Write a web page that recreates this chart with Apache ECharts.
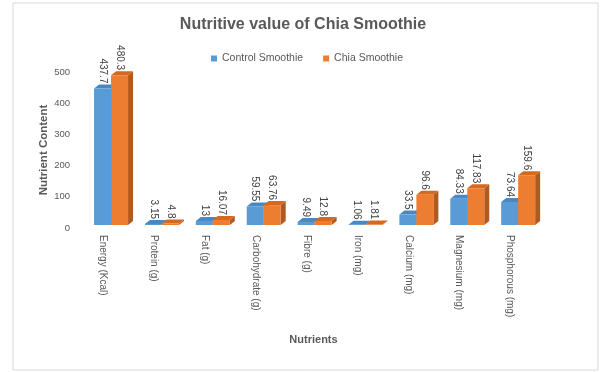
<!DOCTYPE html>
<html>
<head>
<meta charset="utf-8">
<script src="https://cdn.jsdelivr.net/npm/echarts@6/dist/echarts.min.js"></script>
<style>
  html, body { margin: 0; padding: 0; background: #fff; }
  #chart { width: 606px; height: 372px; }
</style>
</head>
<body>
<div id="chart"></div>
<script>
// Nutrient categories and values per smoothie
const categories = [
  'Energy (Kcal)', 'Protein (g)', 'Fat (g)', 'Carbohydrate (g)', 'Fibre (g)',
  'Iron (mg)', 'Calcium (mg)', 'Magnesium (mg)', 'Phosphorous (mg)'
];
const controlValues = [437.7, 3.15, 13, 59.55, 9.49, 1.06, 33.5, 84.33, 73.64];
const chiaValues = [480.3, 4.8, 16.07, 63.76, 12.8, 1.81, 96.6, 117.83, 159.6];
const seriesNames = ['Control Smoothie', 'Chia Smoothie'];
const yMin = 0, yMax = 500, yStep = 100;

const FONT = 'Liberation Sans';
const TEXT = '#595959';

// Face colours for the pseudo-3D columns: front, top, side
const palettes = [
  { front: '#5B9BD5', top: '#4A88C2', side: '#41719C' },
  { front: '#ED7D31', top: '#D4691F', side: '#AE5A21' }
];

// Builds a renderItem drawing one extruded column with its rotated value label
function columnRenderer(slot) {
  const pal = palettes[slot];
  return function (params, api) {
    const cat = api.value(0);
    const val = api.value(1);
    const band = api.size([1, 0])[0];
    const w = band * 0.334;
    const base = api.coord([cat, 0]);
    const top = api.coord([cat, val]);
    const x0 = base[0] - w + slot * w;
    const x1 = x0 + w;
    const yb = base[1];
    const yt = top[1];
    const dx = 5, dy = -4;
    return {
      type: 'group',
      children: [
        {
          type: 'polygon',
          shape: { points: [[x1, yt], [x1 + dx, yt + dy], [x1 + dx, yb + dy], [x1, yb]] },
          style: { fill: pal.side }
        },
        {
          type: 'polygon',
          shape: { points: [[x0, yt], [x0 + dx, yt + dy], [x1 + dx, yt + dy], [x1, yt]] },
          style: { fill: pal.top }
        },
        {
          type: 'rect',
          shape: { x: x0, y: yt, width: w, height: yb - yt },
          style: { fill: pal.front }
        },
        {
          type: 'text',
          x: (x0 + x1) / 2,
          y: yt - 5,
          rotation: -Math.PI / 2,
          style: {
            text: String(val),
            align: 'right',
            verticalAlign: 'middle',
            fontSize: 10,
            fontFamily: FONT,
            fill: '#404040'
          }
        }
      ]
    };
  };
}

const chart = echarts.init(document.getElementById('chart'));
chart.setOption({
  backgroundColor: '#fff',
  animation: false,
  title: {
    text: 'Nutritive value of Chia Smoothie',
    left: 'center',
    top: 12,
    textStyle: { fontFamily: FONT, fontSize: 16, fontWeight: 'bold', color: TEXT }
  },
  legend: {
    data: seriesNames,
    left: 206,
    top: 48,
    icon: 'rect',
    itemWidth: 6,
    itemHeight: 6,
    itemGap: 20,
    textStyle: { fontFamily: FONT, fontSize: 10.5, color: TEXT }
  },
  graphic: [{
    type: 'rect',
    shape: { x: 13, y: 3, width: 585, height: 367 },
    style: { fill: 'none', stroke: '#d9d9d9', lineWidth: 1 },
    silent: true,
    z: -1
  }],
  grid: [
    { left: 85.6, width: 458, top: 69, height: 156 },
    { left: 77.5, width: 458, top: 72, height: 156 }
  ],
  xAxis: [
    { type: 'category', gridIndex: 0, data: categories, show: false },
    {
      type: 'category', gridIndex: 1, data: categories,
      axisLine: { show: false }, axisTick: { show: false },
      axisLabel: { rotate: -90, margin: 7, fontSize: 10, fontFamily: FONT, color: TEXT },
      name: 'Nutrients', nameLocation: 'middle', nameGap: 106,
      nameMoveOverlap: false,
      nameTextStyle: {
        fontFamily: FONT, fontSize: 11, fontWeight: 'bold', color: TEXT,
        padding: [0, 0, 0, 14]
      }
    }
  ],
  yAxis: [
    { type: 'value', gridIndex: 0, min: yMin, max: yMax, interval: yStep, show: false },
    {
      type: 'value', gridIndex: 1, min: yMin, max: yMax, interval: yStep,
      axisLine: { show: false }, axisTick: { show: false }, splitLine: { show: false },
      axisLabel: { margin: 7.5, fontSize: 9.5, fontFamily: FONT, color: TEXT },
      name: 'Nutrient Content', nameLocation: 'middle', nameGap: 28, nameRotate: 90,
      nameMoveOverlap: false,
      nameTextStyle: { fontFamily: FONT, fontSize: 11.5, fontWeight: 'bold', color: TEXT }
    }
  ],
  series: [controlValues, chiaValues].map((vals, s) => ({
    name: seriesNames[s],
    type: 'custom',
    xAxisIndex: 0,
    yAxisIndex: 0,
    itemStyle: { color: palettes[s].front },
    encode: { x: 0, y: 1 },
    data: vals.map((v, i) => [i, v]),
    renderItem: columnRenderer(s)
  }))
});
</script>
</body>
</html>
